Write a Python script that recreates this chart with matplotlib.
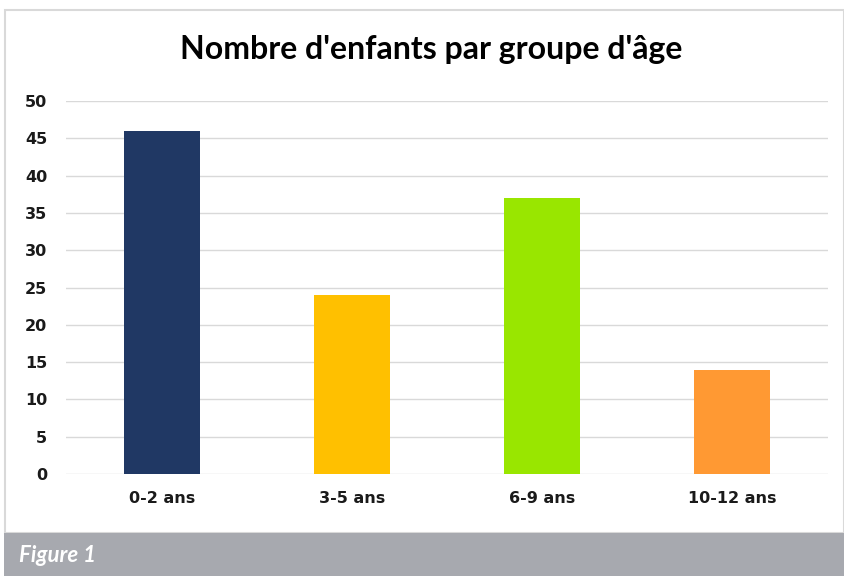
import matplotlib.pyplot as plt
from matplotlib.patches import Rectangle

categories = ['0-2 ans', '3-5 ans', '6-9 ans', '10-12 ans']
values = [46, 24, 37, 14]
colors = ['#203864', '#FFC000', '#99E600', '#FF9933']
yticks = [0, 5, 10, 15, 20, 25, 30, 35, 40, 45, 50]

W, H = 844, 576
fig = plt.figure(figsize=(W / 100, H / 100), dpi=100)
fig.patch.set_facecolor('white')

# frame of the chart area and the caption band
fig.patches.append(Rectangle((5 / W, 1 - 533 / H), 839 / W, 523 / H,
                             transform=fig.transFigure, facecolor='white',
                             edgecolor='#D9D9D9', linewidth=1.5, zorder=0))
fig.patches.append(Rectangle((4 / W, 0), 840 / W, 43 / H,
                             transform=fig.transFigure, facecolor='#A7A9AF',
                             edgecolor='none', zorder=1))
fig.text(19 / W, 1 - 555 / H, 'Figure 1', color='white', fontsize=16,
         fontweight='bold', fontstyle='italic', family='Lato',
         va='center', ha='left')

ax = fig.add_axes([66 / W, 1 - 474 / H, (828 - 66) / W, (474 - 101) / H])
ax.set_zorder(5)
ax.set_facecolor('none')
x = range(len(categories))
ax.bar(x, values, width=0.4, color=colors, zorder=3)
ax.set_xlim(-0.505, 3.505)
ax.set_ylim(0, 50)
ax.set_yticks(yticks)
ax.set_xticks(list(x))
ax.set_xticklabels(categories)
ax.yaxis.grid(True, color='#D9D9D9', linewidth=1, zorder=0)
ax.set_axisbelow(True)
for s in ax.spines.values():
    s.set_visible(False)
ax.tick_params(length=0, labelsize=11.5, colors='#1a1a1a')
ax.tick_params(axis='y', pad=13.5)
ax.tick_params(axis='x', pad=12)
for lab in ax.get_xticklabels() + ax.get_yticklabels():
    lab.set_fontfamily('DejaVu Sans')
    lab.set_fontweight('bold')

fig.text(431 / W, 1 - 50 / H, "Nombre d'enfants par groupe d'âge",
         fontsize=23, fontweight='bold', family='Lato', ha='center', va='center',
         color='#000000', zorder=6)

fig.savefig('out.png', dpi=100)
